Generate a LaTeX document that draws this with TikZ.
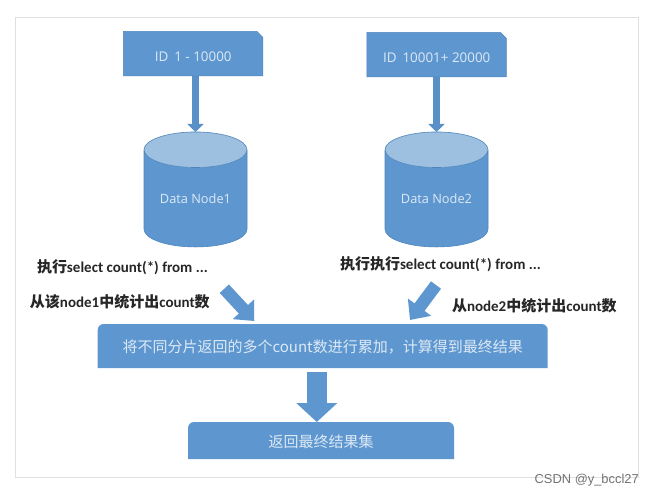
\documentclass[tikz,border=0pt]{standalone}
\usepackage{fontspec}
\setmainfont{Carlito}
\newfontfamily\cjk{Noto Sans CJK SC}
\newfontfamily\opens{Open Sans}
\newfontfamily\lib{Liberation Sans}
\usetikzlibrary{shapes.geometric,shapes.misc,arrows.meta,backgrounds}
\definecolor{bluefill}{HTML}{5E97D0}
\definecolor{blueedge}{HTML}{4F86BA}
\definecolor{capfill}{HTML}{9DBFE0}
\definecolor{boxtext}{HTML}{DCE9F5}
\tikzset{
  idbox/.style={shape=chamfered rectangle,chamfered rectangle corners=north east,
    chamfered rectangle xsep=6pt,chamfered rectangle ysep=6pt,
    fill=bluefill,draw=blueedge,line width=.5pt,inner sep=0pt,outer sep=0pt,
    text=boxtext,font=\opens\fontsize{13.4}{15}\selectfont},
  dbcyl/.style={shape=cylinder,shape border rotate=90,aspect=.5,cylinder uses custom fill,
    cylinder body fill=bluefill,cylinder end fill=capfill,draw=blueedge,line width=.6pt,
    minimum width=103pt,minimum height=115pt,inner sep=0pt,outer sep=0pt,
    text=boxtext,font=\opens\fontsize{12.8}{15}\selectfont},
  slab/.style={minimum width=0pt,inner sep=0pt,outer sep=0pt,text=boxtext},
  slabfill/.style={fill=bluefill},
  note/.style={anchor=west,inner sep=0pt,outer sep=0pt,text=black!85,font=\bfseries\fontsize{15}{17}\selectfont},
  thinarrow/.style={draw=blueedge,line width=7.6pt,blueedge!40!bluefill,-{Triangle[width=16pt,length=8pt]},shorten <=0pt},
  diagarrow/.style={bluefill,line width=12.5pt,-{Triangle[width=28pt,length=16pt]}},
  bigarrow/.style={bluefill,line width=20pt,-{Triangle[width=40pt,length=19pt]}},
}
\begin{document}
\begin{tikzpicture}[x=1pt,y=-1pt]
\useasboundingbox (0,0) rectangle (654,496);
\begin{scope}[on background layer]
\fill[white] (0,0) rectangle (654,496);
\end{scope}
\draw[black!12,line width=.8pt] (15,17) rectangle (638,477);

\node[idbox,minimum width=139.5pt,minimum height=44.5pt] (id1) at (193.2,53.7) {\raisebox{-7.5pt}[0pt][0pt]{ID\hspace{6pt}1 - 10000}};
\node[idbox,minimum width=139.5pt,minimum height=44.5pt] (id2) at (436.7,54.7) {\raisebox{-7.5pt}[0pt][0pt]{ID\hspace{6pt}10001+ 20000}};

\node[dbcyl] (db1) at (195.5,198.5) {Data Node1};
\node[dbcyl] (db2) at (436.5,198.5) {Data Node2};

\node[slab,minimum width=450pt,minimum height=44pt] (merge) at (322.7,346)
  {\raisebox{-6.5pt}[0pt][0pt]{\cjk\fontsize{15}{17}\selectfont 将不同分片返回的多个count数进行累加，计算得到最终结果}};
\node[slab,minimum width=266pt,minimum height=37pt] (result) at (321,440.5)
  {\raisebox{-7pt}[0pt][0pt]{\cjk\fontsize{15}{17}\selectfont 返回最终结果集}};
\begin{scope}[on background layer]
  \fill[slabfill] (merge.south west) [rounded corners=6pt] -- (merge.north west) -- (merge.north east) [sharp corners] -- (merge.south east) -- cycle;
  \fill[slabfill] (result.south west) [rounded corners=6pt] -- (result.north west) -- (result.north east) [sharp corners] -- (result.south east) -- cycle;
\end{scope}

\node[note] (n1) at (37,267) {{\cjk 执行}select count(*) from ...};
\node[note] (n2) at (340,264) {{\cjk 执行执行}select count(*) from ...};
\node[note] (n3) at (30,302) {{\cjk 从该}node1{\cjk 中统计出}count{\cjk 数}};
\node[note] (n4) at (452,306) {{\cjk 从}node2{\cjk 中统计出}count{\cjk 数}};

\coordinate (t1) at (224.3,288.7);
\coordinate (h1) at (254.3,321);
\coordinate (t2) at (436,285);
\coordinate (h2) at (410,320);
\coordinate (t3) at (316.8,372);
\draw[thinarrow] (id1.south -| db1.north) -- (db1.north);
\draw[thinarrow] (id2.south -| db2.north) -- (db2.north);
\draw[diagarrow] (t1) -- (h1);
\draw[diagarrow] (t2) -- (h2);
\draw[bigarrow] (t3) -- (result.north -| t3);

\node[anchor=east,inner sep=0pt,text=black!55,font=\lib\fontsize{12.9}{14}\selectfont] (wm) at (639,480) {CSDN @y\_bccl27};
\end{tikzpicture}
\end{document}
